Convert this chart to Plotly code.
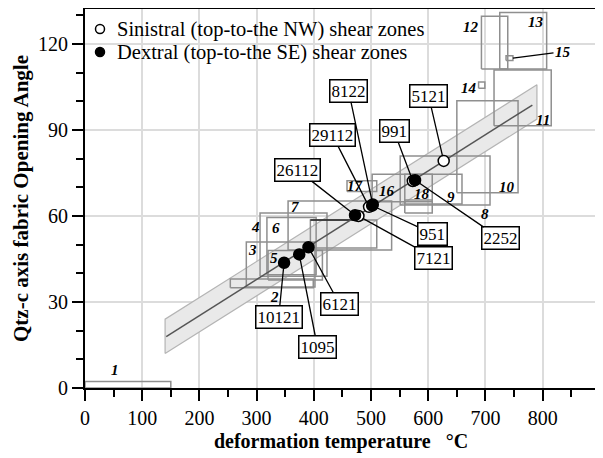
import plotly.graph_objects as go

# ---------------- data ----------------
# rectangular T / angle ranges of published data sets (numbered 1-18, one unlabeled)
box_ids = ["1", "2", "3", "4", "5", "6", "7", "", "8", "9", "10", "11", "12", "13",
           "14", "15", "16", "17", "18"]
box_t0 = [0, 254, 282, 306, 320, 318, 355, 394, 551, 559, 650, 715, 693, 725,
          688, 736, 502, 458, 559]
box_t1 = [150, 399, 402, 423, 415, 404, 536, 510, 708, 659, 757, 815, 739, 807,
          699, 748, 607, 510, 607]
box_a0 = [0, 35, 35.2, 39, 37.7, 39.5, 48.1, 48.8, 63.8, 64.2, 68.1, 91.5, 111.3, 111.3,
          104.6, 114.2, 65, 68.5, 61]
box_a1 = [2.3, 38, 50.9, 61, 48, 59.5, 65.2, 58.6, 80.9, 74.6, 100.2, 110.9, 129.7, 131,
          106.7, 115.9, 74.6, 72.3, 65.6]

# samples of this study
sample_ids = ["10121", "1095", "6121", "26112", "7121", "29112", "951", "8122",
              "991", "2252", "5121"]
sample_temp = [348, 374.5, 390.6, 472, 478, 496.5, 502, 503, 573, 577, 627]
sample_angle = [43.7, 46.6, 49.1, 60.3, 60.0, 63.2, 63.6, 64.0, 72.2, 72.5, 79.2]
sample_sense = ["D", "D", "D", "D", "S", "S", "D", "D", "S", "D", "S"]

# regression line and its envelope
reg_temp = [142, 782]
reg_angle = [17.9, 98.7]
band_temp = [140, 790]
band_upper = [24.0, 105.8]
band_lower = [12.0, 93.8]

x_ticks = [0, 100, 200, 300, 400, 500, 600, 700, 800]
y_ticks = [0, 30, 60, 90, 120]

legend_names = ["Sinistral (top-to-the NW) shear zones", "Dextral (top-to-the SE) shear zones"]

# ---------------- layout helpers (positions of labels, in data units) ----------------
sample_label_pos = {
    "10121": (338.6, 24.8), "1095": (406.3, 14.3), "6121": (444.7, 29.4),
    "26112": (371.7, 76.0), "7121": (609.4, 45.5), "29112": (432.5, 88.2),
    "951": (607.7, 53.8), "8122": (460.7, 103.7), "991": (540.5, 89.5),
    "2252": (725.7, 52.2), "5121": (600.7, 101.8),
}
box_label_pos = {
    "1": (53, 6.3), "2": (331, 31.6), "3": (293, 48.1), "4": (297.6, 56),
    "5": (329.5, 45.4), "6": (334, 55.9), "7": (367, 63), "8": (699, 60.7),
    "9": (639.7, 66.5), "10": (738, 70.2), "11": (800.7, 93.5), "12": (674, 126),
    "13": (789, 127.8), "14": (671.6, 104.7), "16": (527.4, 68.7),
    "17": (472, 70.5), "18": (588.5, 67.7),
}
label15_pos = (835.6, 117.3)
legend_marker_x = 0.0293
legend_text_x = 0.0586
legend_rows_y = [0.947, 0.8865]

SERIF = "Liberation Serif"
fig = go.Figure()

# envelope band
fig.add_trace(go.Scatter(
    x=[band_temp[0], band_temp[1], band_temp[1], band_temp[0], band_temp[0]],
    y=[band_lower[0], band_lower[1], band_upper[1], band_upper[0], band_lower[0]],
    mode="lines", fill="toself", fillcolor="#e9e9e9",
    line=dict(color="#b4b4b4", width=1.2), showlegend=False, hoverinfo="skip"))

# boxes
bx, by = [], []
for t0, t1, a0, a1 in zip(box_t0, box_t1, box_a0, box_a1):
    bx += [t0, t1, t1, t0, t0, None]
    by += [a0, a0, a1, a1, a0, None]
fig.add_trace(go.Scatter(x=bx, y=by, mode="lines",
                         line=dict(color="#8f8f8f", width=1.5),
                         showlegend=False, hoverinfo="skip"))

# dark segment (top of unlabeled box)
fig.add_trace(go.Scatter(x=[box_t0[7], sample_temp[3]], y=[box_a1[7], box_a1[7]],
                         mode="lines", line=dict(color="#222222", width=1.5),
                         showlegend=False, hoverinfo="skip"))

# regression line
fig.add_trace(go.Scatter(x=reg_temp, y=reg_angle, mode="lines",
                         line=dict(color="#555555", width=1.5),
                         showlegend=False, hoverinfo="skip"))

# samples
sx = [t for t, s in zip(sample_temp, sample_sense) if s == "S"]
sy = [a for a, s in zip(sample_angle, sample_sense) if s == "S"]
dx = [t for t, s in zip(sample_temp, sample_sense) if s == "D"]
dy = [a for a, s in zip(sample_angle, sample_sense) if s == "D"]
fig.add_trace(go.Scatter(x=sx, y=sy, mode="markers", name=legend_names[0], showlegend=False,
                         marker=dict(size=11, color="white", line=dict(color="black", width=1.5))))
fig.add_trace(go.Scatter(x=dx, y=dy, mode="markers", name=legend_names[1], showlegend=False,
                         marker=dict(size=11, color="black", line=dict(color="black", width=1.5))))

annotations = []
for sid, t, a in zip(sample_ids, sample_temp, sample_angle):
    lx, ly = sample_label_pos[sid]
    annotations.append(dict(
        x=t, y=a, xref="x", yref="y", ax=lx, ay=ly, axref="x", ayref="y",
        text=sid, showarrow=True, arrowhead=0, arrowwidth=1.3, arrowcolor="black",
        standoff=5, font=dict(family=SERIF, size=17, color="black"),
        bgcolor="white", bordercolor="black", borderwidth=1.5, borderpad=1))

for bid, (lx, ly) in box_label_pos.items():
    annotations.append(dict(x=lx, y=ly, xref="x", yref="y", text="<b><i>%s</i></b>" % bid,
                            showarrow=False,
                            font=dict(family=SERIF, size=15, color="black")))

i15 = box_ids.index("15")
annotations.append(dict(
    x=box_t1[i15], y=(box_a0[i15] + box_a1[i15]) / 2, xref="x", yref="y",
    ax=label15_pos[0], ay=label15_pos[1], axref="x", ayref="y",
    text="<b><i>15</i></b>", showarrow=True, arrowhead=0, arrowwidth=1.3,
    arrowcolor="black", standoff=0, font=dict(family=SERIF, size=15, color="black")))

# manual legend
shapes = []
fills = ["white", "black"]
for name, fc, ly in zip(legend_names, fills, legend_rows_y):
    annotations.append(dict(x=legend_text_x, y=ly, xref="paper", yref="paper",
                            xanchor="left", yanchor="middle", text=name, showarrow=False,
                            font=dict(family=SERIF, size=20.5, color="black")))
    shapes.append(dict(type="circle", xref="paper", yref="paper",
                       xsizemode="pixel", ysizemode="pixel",
                       xanchor=legend_marker_x, yanchor=ly,
                       x0=-4.5, x1=4.5, y0=-4.5, y1=4.5,
                       fillcolor=fc, line=dict(color="black", width=1.5)))

axis_common = dict(
    showline=True, linecolor="black", linewidth=2, automargin=False,
    showgrid=True, gridcolor="#dcdcdc", gridwidth=1.5, zeroline=False,
    ticks="outside", ticklen=11, tickwidth=1.5, tickcolor="black",
    tickfont=dict(family=SERIF, size=20, color="black"),
)

fig.update_layout(
    width=595, height=450,
    margin=dict(l=77, r=6, t=1, b=70, autoexpand=False),
    font=dict(family=SERIF, color="black"),
    paper_bgcolor="white", plot_bgcolor="white",
    annotations=annotations, shapes=shapes,
    showlegend=False,
    xaxis=dict(axis_common, range=[0, 895], tickvals=x_ticks, mirror=True,
               minor=dict(dtick=50, ticks="outside", ticklen=7, tickwidth=1.5,
                          tickcolor="black", showgrid=False),
               title=dict(text="<b>deformation temperature\u00a0\u00a0\u00a0°C</b>",
                          font=dict(family=SERIF, size=20, color="black"), standoff=6)),
    yaxis=dict(axis_common, range=[0, 132.2], tickvals=y_ticks,
               minor=dict(dtick=10, ticks="outside", ticklen=7, tickwidth=1.5,
                          tickcolor="black", showgrid=False),
               title=dict(text="<b>Qtz-c axis fabric Opening Angle</b>",
                          font=dict(family=SERIF, size=21, color="black"), standoff=4)),
)

fig.write_html("out.html")
